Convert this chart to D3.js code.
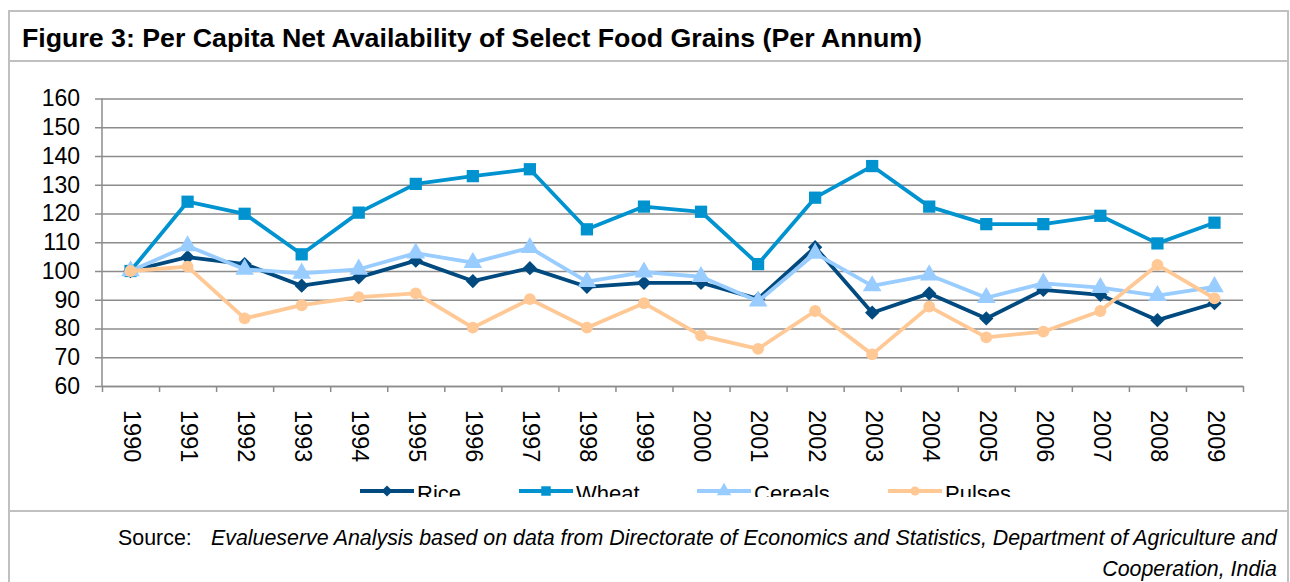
<!DOCTYPE html>
<html>
<head>
<meta charset="utf-8">
<script src="https://cdn.jsdelivr.net/npm/d3@7"></script>
<style>
  html, body { margin: 0; padding: 0; background: #fff; }
  svg { display: block; font-family: "Liberation Sans", Arial, sans-serif; }
</style>
</head>
<body>
<svg id="chart" width="1290" height="582"></svg>
<script>
// ---- data ----
const years = ["1990","1991","1992","1993","1994","1995","1996","1997","1998","1999",
               "2000","2001","2002","2003","2004","2005","2006","2007","2008","2009"];
const rice    = [100,104.8,102.4,94.9,97.8,103.6,96.5,101,94.5,95.9,95.9,90.3,108.3,85.5,92.2,83.5,93.4,91.7,82.9,88.8];
const wheat   = [100,124.1,119.9,105.8,120.3,130.3,133,135.4,114.5,122.4,120.6,102.4,125.5,136.5,122.4,116.3,116.3,119.2,109.6,116.8];
const cereals = [100,108.7,100.6,99.2,100.6,106.2,102.9,108.1,96.3,99.6,98,89.5,106.1,94.8,98.6,90.7,95.7,94.2,91.4,94.5];
const pulses  = [100,101.5,83.5,88.1,90.9,92.2,80.3,90.2,80.3,88.8,77.5,72.9,86.1,71,87.6,76.9,78.9,86.1,102.1,90.5];
const yTicks  = [60,70,80,90,100,110,120,130,140,150,160];
const seriesNames = ["Rice","Wheat","Cereals","Pulses"];
const title = "Figure 3: Per Capita Net Availability of Select Food Grains (Per Annum)";
const sourceLabel = "Source:";
const sourceLine1 = "Evalueserve Analysis based on data from Directorate of Economics and Statistics, Department of Agriculture and";
const sourceLine2 = "Cooperation, India";

const seriesData = [rice, wheat, cereals, pulses];
const colors = ["#004a7f", "#0093d0", "#99ccff", "#ffc895"];
const symbols = [d3.symbolDiamond2, d3.symbolSquare, d3.symbolTriangle, d3.symbolCircle];
const symSizes = [130, 150, 150, 110];

const svg = d3.select("#chart");
const frame = "#c0c0c0";

// frame
svg.append("line").attr("x1", 9).attr("x2", 9).attr("y1", 10).attr("y2", 582).attr("stroke", frame).attr("stroke-width", 2);
svg.append("line").attr("x1", 1288).attr("x2", 1288).attr("y1", 10).attr("y2", 582).attr("stroke", frame).attr("stroke-width", 2);
svg.append("line").attr("x1", 8).attr("x2", 1289).attr("y1", 11).attr("y2", 11).attr("stroke", frame).attr("stroke-width", 2);
svg.append("line").attr("x1", 8).attr("x2", 1289).attr("y1", 61).attr("y2", 61).attr("stroke", frame).attr("stroke-width", 2);
svg.append("line").attr("x1", 8).attr("x2", 1289).attr("y1", 511).attr("y2", 511).attr("stroke", frame).attr("stroke-width", 2);

// title
svg.append("text").attr("x", 22).attr("y", 47).attr("font-size", 25).attr("font-weight", "bold")
  .attr("fill", "#000").attr("textLength", 900).attr("lengthAdjust", "spacingAndGlyphs").text(title);

// scales
const pLeft = 102, pRight = 1243, pTop = 98.5, pBottom = 386;
const x = d3.scaleBand().domain(years).range([pLeft, pRight]).paddingInner(0).paddingOuter(0);
const xi = d3.scaleLinear().domain([0, years.length]).range([pLeft, pRight]);
const y = d3.scaleLinear().domain([60, 160]).range([pBottom, pTop]);
const cx = d => x(d) + x.bandwidth() / 2;

// gridlines + y axis
const yAxis = d3.axisLeft(y).tickValues(yTicks).tickSize(-(pRight - pLeft)).tickSizeOuter(0).tickPadding(15);
const gy = svg.append("g").attr("transform", `translate(${pLeft},0)`).call(yAxis);
gy.select(".domain").attr("stroke", "#8c8c8c").attr("stroke-width", 1.5);
gy.selectAll(".tick line").attr("stroke", "#8c8c8c").attr("stroke-width", 1.5).attr("x1", -7);
gy.selectAll(".tick text").attr("font-size", 23).attr("fill", "#000")
  .attr("font-family", "Liberation Sans, Arial, sans-serif").attr("x", -22);
gy.select(".domain").attr("d", `M0,${pTop}V${pBottom}`);

// x axis tick marks at boundaries
const gxt = svg.append("g").attr("transform", `translate(0,${pBottom})`)
  .call(d3.axisBottom(xi).tickValues(d3.range(0, years.length + 1)).tickFormat("").tickSize(6).tickSizeOuter(0));
gxt.select(".domain").attr("stroke", "#8c8c8c").attr("stroke-width", 1.5);
gxt.selectAll(".tick line").attr("stroke", "#8c8c8c").attr("stroke-width", 1.5);

// x labels (rotated)
const gx = svg.append("g").attr("transform", `translate(0,${pBottom})`)
  .call(d3.axisBottom(x).tickSize(0).tickSizeOuter(0));
gx.select(".domain").remove();
gx.selectAll(".tick text")
  .attr("font-size", 23.5).attr("fill", "#000").attr("font-family", "Liberation Sans, Arial, sans-serif")
  .attr("text-anchor", "start").attr("y", 0).attr("x", 0).attr("dy", "0.28em")
  .attr("transform", "translate(0,24) rotate(90)");

// series
const line = d3.line().x((d, i) => cx(years[i])).y(d => y(d));
seriesData.forEach((vals, s) => {
  const g = svg.append("g");
  g.append("path").datum(vals).attr("d", line).attr("fill", "none")
    .attr("stroke", colors[s]).attr("stroke-width", 3.8).attr("stroke-linejoin", "round");
  g.selectAll("path.m").data(vals).join("path").attr("class", "m")
    .attr("d", d3.symbol(symbols[s], symSizes[s]))
    .attr("transform", (d, i) => `translate(${cx(years[i])},${y(d)})`)
    .attr("fill", colors[s]);
});

// legend (clipped at bottom like the reference)
svg.append("clipPath").attr("id", "legclip").append("rect").attr("x", 0).attr("y", 460).attr("width", 1290).attr("height", 37);
const legX = [360, 519, 697, 888];
const leg = svg.append("g").attr("clip-path", "url(#legclip)");
seriesNames.forEach((n, s) => {
  const g = leg.append("g").attr("transform", `translate(${legX[s]},491)`);
  g.append("line").attr("x1", 0).attr("x2", 54).attr("stroke", colors[s]).attr("stroke-width", 3.8);
  g.append("path").attr("d", d3.symbol(symbols[s], symSizes[s] * 0.6)).attr("transform", "translate(27,0)").attr("fill", colors[s]);
  g.append("text").attr("x", 57).attr("y", 10).attr("font-size", 22).attr("fill", "#000").text(n);
});

// source
svg.append("text").attr("x", 118).attr("y", 545).attr("font-size", 21.4).attr("fill", "#000").text(sourceLabel);
svg.append("text").attr("x", 1277).attr("y", 545).attr("font-size", 21.4).attr("font-style", "italic")
  .attr("text-anchor", "end").attr("fill", "#000").attr("textLength", 1066).attr("lengthAdjust", "spacingAndGlyphs").text(sourceLine1);
svg.append("text").attr("x", 1277).attr("y", 576).attr("font-size", 21.4).attr("font-style", "italic")
  .attr("text-anchor", "end").attr("fill", "#000").text(sourceLine2);
</script>
</body>
</html>
